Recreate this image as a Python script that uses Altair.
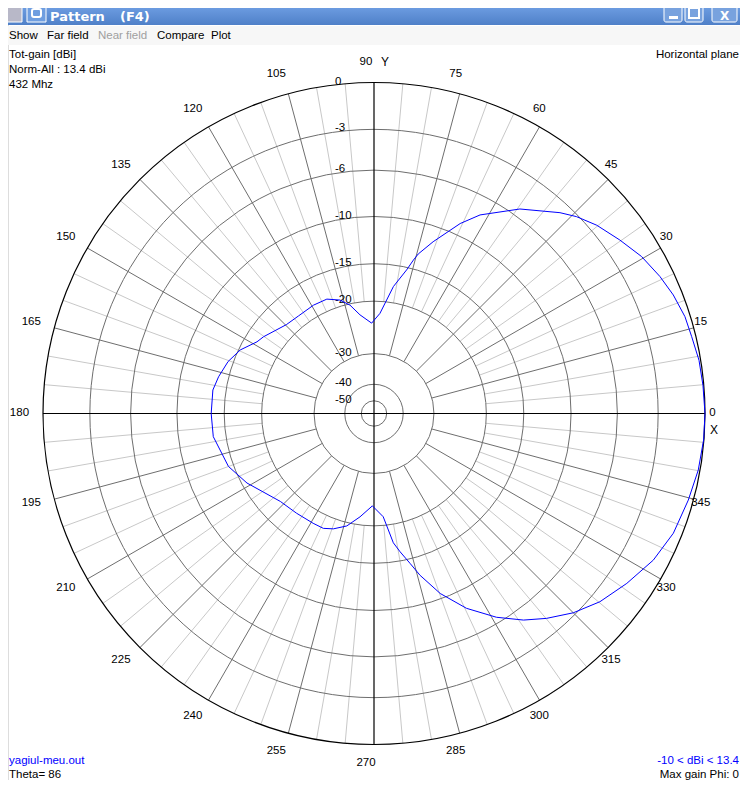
import math
import altair as alt
import pandas as pd

# ---------------- data ----------------
# azimuth (phi, degrees) and normalised total gain (dB) of the blue pattern
phi_deg = [0, 4.9, 9.3, 13.6, 17.3, 21.6, 25.6, 30.4, 35.2, 40.2, 44.2, 47.2,
           54.5, 61.9, 65.6, 71, 74.5, 75.6, 77.2, 81.3, 86.6, 91.5, 98.1,
           102.5, 106.7, 112.4, 119.2, 127.8, 134.6, 145.2, 148.5, 154.6,
           160.4, 166.7, 171.7, 180,
           188.2, 200, 208.7, 223.2, 232.2, 241, 246.2, 250.6, 256.4, 262.3,
           269, 275.1, 278.5, 280.7, 283.5, 285.9, 290.2, 295.4, 301, 305.9,
           310.1, 315, 320.2, 326.1, 332.3, 338.2, 344.6, 350.1, 355.4, 360]
gain_db = [0, -0.05, -0.1, -0.25, -0.32, -0.55, -0.85, -1.28, -1.88, -2.49, -3.12, -3.73,
           -5.39, -7.49, -8.93, -11.5, -13.2, -14.0, -15.3, -17.7, -21.9, -23.6, -22.0,
           -20.2, -19.1, -18.35, -18.3, -18.4, -18.2, -16.9, -16.55, -15.2,
           -14.4, -13.85, -13.5, -13.5,
           -13.55, -14.4, -15.6, -17.7, -18.0, -18.1, -18.1, -18.55, -19.5, -21.25,
           -23.25, -21.35, -17.4, -16.1, -14.5, -12.9, -10.5, -8.3, -6.45, -5.1,
           -4.15, -3.16, -2.33, -1.64, -0.95, -0.52, -0.30, -0.11, -0.02, 0]

ring_db = [-3, -6, -10, -15, -20, -30, -40, -50]
label_db = [0, -3, -6, -10, -15, -20, -30, -40, -50]
label_txt = ["0", "-3", "-6", "-10", "-15", "-20", "-30", "-40", "-50"]
spoke_deg = [a for a in range(0, 360, 5) if a % 90 != 0]
angle_lab_deg = list(range(0, 360, 15))
axis_deg = [0, 90]

menu_items = ["Show", "Far field", "Near field", "Compare", "Plot"]

# ---------------- geometry / styling ----------------
W, H = 732, 772
CX, CY, R = 366, 405.5, 331
FONT = "Liberation Sans"

# 4nec2 style log-like radial scale: r/R = exp(-(A d + B d^2 + C d^3)), d = -dB
A, B, C = 0.05055, 0.000095, 3.96e-6


def rad(field):
    d = f"(-datum.{field})"
    return f"exp(-({A}*{d} + {B}*{d}*{d} + {C}*{d}*{d}*{d}))"


xs = alt.Scale(domain=[-1, 1], range=[CX - R, CX + R], nice=False, zero=False)
ys = alt.Scale(domain=[-1, 1], range=[CY + R, CY - R], nice=False, zero=False)
rs = alt.Scale(domain=[0, 1], range=[0, R], zero=True, nice=False)


def X(f):
    return alt.X(f, scale=xs, axis=None)


def Y(f):
    return alt.Y(f, scale=ys, axis=None)


X0 = alt.XDatum(0, type="quantitative", scale=xs, axis=None)
Y0 = alt.YDatum(0, type="quantitative", scale=ys, axis=None)

one = pd.DataFrame({"k": [0]})

# ---------------- window chrome ----------------
title_bar = alt.Chart(one).mark_rect(
    color=alt.LinearGradient(
        gradient="linear", x1=0, x2=0, y1=0, y2=1,
        stops=[alt.GradientStop(color="#6b9be0", offset=0),
               alt.GradientStop(color="#4f80c8", offset=1)])
).encode(x=alt.value(0), x2=alt.value(W), y=alt.value(0), y2=alt.value(17))

menu_bar = alt.Chart(one).mark_rect(color="#f7f7f7").encode(
    x=alt.value(0), x2=alt.value(W), y=alt.value(18), y2=alt.value(37))

btn_df = pd.DataFrame({"x0": [656, 677, 704], "x1": [674, 695, 729]})
buttons = alt.Chart(btn_df).mark_rect(
    fill="#78a2de", stroke="white", strokeWidth=1, cornerRadius=2
).encode(x=alt.X("x0:Q", scale=None), x2="x1:Q", y=alt.value(-3), y2=alt.value(14))

icon_df = pd.DataFrame({"x0": [-4, 19], "x1": [14, 38], "c": ["#b8b8c8", "#6f9ee0"]})
icons = alt.Chart(icon_df).mark_rect(stroke="white", strokeWidth=1).encode(
    x=alt.X("x0:Q", scale=None), x2="x1:Q", y=alt.value(-4), y2=alt.value(14),
    color=alt.Color("c:N", scale=None))

glyph_min = alt.Chart(one).mark_rect(color="white").encode(
    x=alt.value(661), x2=alt.value(670), y=alt.value(8), y2=alt.value(11))
glyph_max = alt.Chart(one).mark_rect(fill="transparent", stroke="white", strokeWidth=2).encode(
    x=alt.value(681), x2=alt.value(691), y=alt.value(0), y2=alt.value(10))
glyph_icon = alt.Chart(one).mark_rect(fill="transparent", stroke="white", strokeWidth=2, cornerRadius=2).encode(
    x=alt.value(24), x2=alt.value(33), y=alt.value(1), y2=alt.value(9))
glyph_close = alt.Chart(one).mark_text(
    text="X", color="white", fontWeight="bold", fontSize=12, font="DejaVu Sans").encode(
    x=alt.value(716.5), y=alt.value(7.5))
title_df = pd.DataFrame({"t": ["Pattern", "(F4)"], "px": [42, 112]})
title_txt = alt.Chart(title_df).mark_text(
    color="white", fontWeight="bold", fontSize=13,
    font="DejaVu Sans", align="left").encode(
    x=alt.X("px:Q", scale=None), y=alt.value(9), text="t:N")

menu_df = pd.DataFrame({"t": menu_items, "px": [1, 39, 90, 149, 203],
                        "c": ["black", "black", "#a0a0a0", "black", "black"]})
menu_txt = alt.Chart(menu_df).mark_text(align="left", fontSize=11.5, font=FONT).encode(
    x=alt.X("px:Q", scale=None), y=alt.value(28), text="t:N",
    color=alt.Color("c:N", scale=None))

# ---------------- polar grid ----------------
spokes_base = alt.Chart(pd.DataFrame({"a": spoke_deg})).transform_calculate(
    kind="datum.a % 15 == 0 ? 'major' : 'minor'",
    rin_db="datum.a % 15 == 0 ? -30 : -20",
).transform_calculate(
    rin=rad("rin_db"),
).transform_calculate(
    x1="datum.rin*cos(datum.a*PI/180)",
    y1="datum.rin*sin(datum.a*PI/180)",
    x2="cos(datum.a*PI/180)",
    y2="sin(datum.a*PI/180)",
)
minor = spokes_base.transform_filter("datum.kind == 'minor'").mark_rule(
    color="#c8c8c8", strokeWidth=1).encode(x=X("x1:Q"), y=Y("y1:Q"), x2="x2:Q", y2="y2:Q")
major = spokes_base.transform_filter("datum.kind == 'major'").mark_rule(
    color="#6e6e6e", strokeWidth=1).encode(x=X("x1:Q"), y=Y("y1:Q"), x2="x2:Q", y2="y2:Q")

rings = alt.Chart(pd.DataFrame({"db": ring_db})).transform_calculate(
    r=rad("db")).mark_arc(filled=False, stroke="#6e6e6e", strokeWidth=1,
                          theta=0, theta2=2 * math.pi).encode(
    x=X0, y=Y0, radius=alt.Radius("r:Q", scale=rs, stack=False))

outer = alt.Chart(pd.DataFrame({"db": [0]})).transform_calculate(
    r=rad("db")).mark_arc(filled=False, stroke="black", strokeWidth=1.2,
                          theta=0, theta2=2 * math.pi).encode(
    x=X0, y=Y0, radius=alt.Radius("r:Q", scale=rs, stack=False))

axes = alt.Chart(pd.DataFrame({"a": axis_deg})).transform_calculate(
    x1="-cos(datum.a*PI/180)", y1="-sin(datum.a*PI/180)",
    x2="cos(datum.a*PI/180)", y2="sin(datum.a*PI/180)",
).mark_rule(color="black", strokeWidth=1.2).encode(
    x=X("x1:Q"), y=Y("y1:Q"), x2="x2:Q", y2="y2:Q")

angle_labels = alt.Chart(pd.DataFrame({"a": angle_lab_deg})).transform_calculate(
    tx="1.047*cos(datum.a*PI/180)", ty="1.059*sin(datum.a*PI/180)",
    t="toString(datum.a)",
).mark_text(dx=-8, dy=-1, fontSize=11.5, font=FONT, color="black").encode(
    x=X("tx:Q"), y=Y("ty:Q"), text="t:N")

db_labels = alt.Chart(pd.DataFrame({"db": label_db, "t": label_txt})).transform_calculate(
    r=rad("db")).mark_text(align="left", dx=-39, dy=-1, fontSize=11.5, font=FONT,
                           color="black").encode(x=X0, y=Y("r:Q"), text="t:N")

axis_names = alt.Chart(pd.DataFrame({"t": ["Y", "X"], "px": [377, 706], "py": [54, 422]})).mark_text(
    fontSize=12, font=FONT, color="black").encode(
    x=alt.X("px:Q", scale=None), y=alt.Y("py:Q", scale=None), text="t:N")

pattern = alt.Chart(pd.DataFrame({"phi": phi_deg, "db": gain_db})).transform_calculate(
    r=rad("db"),
).transform_calculate(
    px="datum.r*cos(datum.phi*PI/180)",
    py="datum.r*sin(datum.phi*PI/180)",
).mark_line(color="#0000ff", strokeWidth=1).encode(
    x=X("px:Q"), y=Y("py:Q"), order="phi:Q")

# ---------------- corner texts ----------------
tl_df = pd.DataFrame({"t": ["Tot-gain [dBi]", "Norm-All : 13.4 dBi", "432 Mhz"],
                      "py": [46.5, 61.5, 76.5]})
top_left = alt.Chart(tl_df).mark_text(align="left", fontSize=11.5, font=FONT, color="black").encode(
    x=alt.value(1), y=alt.Y("py:Q", scale=None), text="t:N")
top_right = alt.Chart(one).mark_text(text="Horizontal plane", align="right", fontSize=11.5,
                                     font=FONT, color="black").encode(
    x=alt.value(731), y=alt.value(46.5))

bl_df = pd.DataFrame({"t": ["yagiul-meu.out", "Theta= 86"], "py": [753, 767],
                      "c": ["#0000ff", "black"]})
bottom_left = alt.Chart(bl_df).mark_text(align="left", fontSize=11.5, font=FONT).encode(
    x=alt.value(1), y=alt.Y("py:Q", scale=None), text="t:N", color=alt.Color("c:N", scale=None))
br_df = pd.DataFrame({"t": ["-10 < dBi < 13.4", "Max gain Phi: 0"], "py": [753, 767],
                      "c": ["#0000ff", "black"]})
bottom_right = alt.Chart(br_df).mark_text(align="right", fontSize=11.5, font=FONT).encode(
    x=alt.value(731), y=alt.Y("py:Q", scale=None), text="t:N", color=alt.Color("c:N", scale=None))

chart = alt.layer(
    title_bar, menu_bar, buttons, icons, glyph_min, glyph_max, glyph_icon, glyph_close,
    title_txt, menu_txt,
    minor, major, rings, axes, outer, angle_labels, db_labels, axis_names, pattern,
    top_left, top_right, bottom_left, bottom_right,
).resolve_scale(color="independent").properties(
    width=W, height=H, padding=0, autosize=alt.AutoSizeParams(type="none"),
).configure_view(strokeWidth=0).configure(background="white")

chart.save("out.html", embed_options={"renderer": "svg", "actions": False})
